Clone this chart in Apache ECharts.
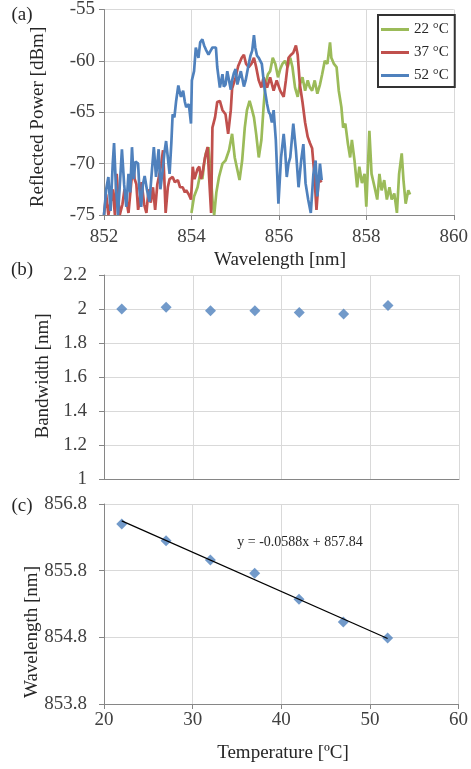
<!DOCTYPE html>
<html>
<head>
<meta charset="utf-8">
<script src="https://cdn.jsdelivr.net/npm/echarts@6/dist/echarts.min.js"></script>
<style>
  html, body { margin: 0; padding: 0; background: #fff; }
  #chart { width: 471px; height: 769px; }
</style>
</head>
<body>
<div id="chart"></div>
<script>
// (a) reflected spectra: wavelength [nm] / power [dBm]
const wl22 = [854.00,854.06,854.14,854.20,854.25,854.29,854.33,854.39,854.44,854.49,854.52,854.57,854.63,854.71,854.78,854.86,854.93,854.99,855.05,855.10,855.16,855.22,855.27,855.33,855.37,855.43,855.48,855.54,855.60,855.65,855.69,855.75,855.80,855.86,855.92,855.98,856.03,856.08,856.14,856.20,856.26,856.31,856.37,856.43,856.48,856.54,856.60,856.66,856.71,856.76,856.82,856.88,856.94,856.99,857.05,857.11,857.17,857.20,857.26,857.32,857.37,857.43,857.47,857.52,857.58,857.63,857.67,857.73,857.79,857.84,857.90,857.96,858.00,858.07,858.12,858.19,858.25,858.30,858.35,858.41,858.47,858.53,858.58,858.64,858.70,858.75,858.81,858.85,858.90,858.96,859.00];
const pw22 = [-74.8,-73.2,-72.3,-71.0,-71.5,-70.0,-69.0,-68.4,-71.0,-74.0,-75.0,-72.8,-71.3,-70.0,-69.7,-68.7,-67.1,-69.4,-70.6,-71.6,-69.7,-66.5,-64.8,-63.9,-64.5,-65.5,-67.1,-69.4,-67.7,-64.5,-62.3,-61.3,-61.0,-59.7,-60.3,-61.6,-60.8,-60.3,-60.0,-60.6,-59.7,-60.6,-62.6,-63.5,-62.3,-61.6,-62.9,-61.9,-62.6,-62.9,-61.9,-63.2,-62.3,-61.3,-60.0,-60.3,-58.2,-59.7,-60.3,-60.6,-62.9,-64.5,-66.5,-66.1,-68.1,-69.4,-67.7,-69.7,-72.3,-70.3,-71.9,-71.0,-74.2,-66.8,-71.0,-72.3,-73.5,-71.0,-72.6,-71.6,-73.5,-72.3,-73.5,-72.9,-74.8,-71.0,-69.0,-71.6,-73.9,-72.6,-73.0];

const wl37 = [852.00,852.05,852.10,852.14,852.20,852.25,852.29,852.33,852.36,852.42,852.47,852.51,852.56,852.62,852.67,852.70,852.74,852.78,852.82,852.86,852.92,852.97,853.02,853.07,853.12,853.17,853.22,853.27,853.31,853.35,853.38,853.41,853.46,853.50,853.57,853.62,853.69,853.74,853.80,853.85,853.88,853.94,853.99,854.03,854.07,854.10,854.14,854.18,854.22,854.25,854.31,854.37,854.40,854.45,854.48,854.54,854.59,854.65,854.71,854.78,854.84,854.90,854.93,855.01,855.07,855.15,855.20,855.25,855.31,855.37,855.43,855.48,855.54,855.60,855.65,855.73,855.80,855.88,855.95,856.03,856.11,856.16,856.22,856.28,856.33,856.39,856.43,856.48,856.54,856.60,856.66,856.71,856.76,856.81,856.86,856.91,856.98];
const pw37 = [-75.0,-73.0,-75.0,-74.0,-72.5,-75.0,-71.0,-73.5,-75.0,-74.0,-72.5,-73.5,-74.8,-72.0,-70.0,-71.5,-72.0,-74.5,-73.5,-71.8,-74.0,-74.8,-72.5,-73.8,-72.3,-74.5,-72.0,-71.0,-70.0,-68.7,-71.5,-74.8,-72.3,-71.5,-71.3,-71.8,-71.6,-72.3,-72.3,-72.8,-72.6,-73.0,-73.5,-70.3,-71.5,-71.6,-70.5,-70.3,-71.5,-71.0,-69.4,-68.4,-71.0,-74.8,-66.5,-65.5,-64.0,-63.9,-64.8,-65.2,-67.1,-64.8,-62.7,-61.6,-60.5,-59.7,-59.4,-60.3,-60.6,-60.3,-59.7,-60.6,-61.9,-62.6,-61.6,-62.6,-61.6,-62.9,-61.9,-62.9,-63.5,-61.9,-59.7,-59.4,-59.2,-58.5,-59.4,-62.3,-64.0,-66.0,-67.4,-68.0,-68.5,-71.0,-74.5,-71.5,-71.8];

const wl52 = [852.00,852.05,852.10,852.15,852.20,852.23,852.27,852.32,852.37,852.41,852.46,852.51,852.56,852.60,852.64,852.68,852.72,852.78,852.81,852.85,852.89,852.93,852.98,853.04,853.09,853.14,853.19,853.25,853.29,853.34,853.38,853.42,853.46,853.50,853.54,853.57,853.61,853.65,853.70,853.73,853.76,853.81,853.85,853.88,853.94,853.99,854.01,854.06,854.10,854.16,854.20,854.25,854.29,854.33,854.39,854.44,854.48,854.56,854.59,854.65,854.71,854.74,854.78,854.82,854.86,854.90,854.93,854.97,855.01,855.05,855.09,855.13,855.16,855.20,855.24,855.31,855.35,855.39,855.43,855.46,855.50,855.54,855.61,855.67,855.73,855.77,855.80,855.84,855.88,855.93,855.99,856.05,856.11,856.14,856.18,856.22,856.26,856.33,856.39,856.45,856.51,856.56,856.61,856.67,856.73,856.79,856.84,856.88,856.94,856.98];
const pw52 = [-75.0,-72.5,-71.3,-74.6,-70.0,-68.0,-72.0,-75.0,-71.5,-68.6,-72.0,-74.2,-71.0,-72.8,-68.4,-71.5,-69.8,-70.0,-72.5,-74.2,-72.0,-71.2,-72.5,-73.7,-71.0,-68.4,-71.3,-68.6,-72.5,-70.7,-69.0,-67.8,-67.7,-71.0,-68.0,-65.2,-65.5,-63.9,-62.4,-63.0,-63.5,-62.9,-64.0,-64.5,-64.2,-66.1,-61.9,-61.0,-58.7,-59.7,-58.2,-57.9,-58.5,-58.9,-59.4,-59.0,-58.7,-58.7,-60.6,-62.6,-61.3,-62.5,-62.3,-61.0,-61.0,-62.8,-61.9,-61.2,-60.8,-62.3,-62.3,-61.0,-61.0,-62.5,-61.9,-60.3,-59.5,-59.0,-57.5,-58.7,-59.5,-59.7,-60.3,-62.6,-64.2,-65.0,-65.2,-66.0,-64.8,-67.7,-73.9,-69.4,-67.1,-68.5,-71.3,-70.0,-69.4,-66.1,-68.7,-72.3,-69.7,-68.1,-71.9,-73.5,-74.8,-71.0,-69.7,-73.2,-70.0,-71.6];

const seriesNames = ['22 °C', '37 °C', '52 °C'];

// (b) and (c)
const temps = [22, 27, 32, 37, 42, 47, 52];
const bandwidth = [2.00, 2.01, 1.99, 1.99, 1.98, 1.97, 2.02];
const peakWl = [856.50, 856.25, 855.96, 855.76, 855.37, 855.03, 854.79];
const fitSlope = -0.0588;
const fitIntercept = 857.84;

const SERIF = '"Liberation Serif", "Times New Roman", serif';
const gridColor = '#d9d9d9';
const axisColor = '#868686';
const labelColor = '#404040';
const colors = ['#9bbb59', '#c0504d', '#4f81bd'];

const pairs = (xs, ys) => xs.map((x, i) => [x, ys[i]]);
const fitLine = [temps[0], temps[temps.length - 1]].map(t => [t, fitSlope * t + fitIntercept]);

function valueAxis(grid, min, max, interval, extra) {
  return Object.assign({
    type: 'value', gridIndex: grid, min: min, max: max, interval: interval,
    axisLine: { show: true, lineStyle: { color: axisColor, width: 1 } },
    axisTick: { show: true, length: 5, lineStyle: { color: axisColor } },
    splitLine: { show: true, lineStyle: { color: gridColor, width: 1 } },
    axisLabel: { color: labelColor, fontFamily: SERIF, fontSize: 19 }
  }, extra || {});
}

function label(text, x, y, size, rotate) {
  return {
    type: 'text', x: x, y: y, rotation: rotate ? Math.PI / 2 : 0,
    style: {
      text: text, fill: '#262626', font: size + 'px ' + SERIF,
      textAlign: 'center', textVerticalAlign: 'middle',
      align: 'center', verticalAlign: 'middle'
    }
  };
}

const chart = echarts.init(document.getElementById('chart'), null, { renderer: 'canvas' });

const option = {
  animation: false,
  backgroundColor: '#fff',
  color: colors,
  grid: [
    { left: 104, top: 8, width: 352, height: 207 },
    { left: 104, top: 275, width: 355, height: 204 },
    { left: 104, top: 504, width: 357, height: 200 }
  ],
  xAxis: [
    valueAxis(0, 852, 860, 2, { axisLabel: { color: labelColor, fontFamily: SERIF, fontSize: 19, margin: 13 } }),
    valueAxis(1, 20, 60, 10, { axisLabel: { show: false }, axisTick: { show: false } }),
    valueAxis(2, 20, 60, 10, { axisLabel: { color: labelColor, fontFamily: SERIF, fontSize: 19, margin: 7 } })
  ],
  yAxis: [
    valueAxis(0, -75, -55, 5, { axisLabel: { color: labelColor, fontFamily: SERIF, fontSize: 19, margin: 9 } }),
    valueAxis(1, 1, 2.2, 0.2, { axisLabel: { color: labelColor, fontFamily: SERIF, fontSize: 19, margin: 17 } }),
    valueAxis(2, 853.8, 856.8, 1, {
      axisLabel: { color: labelColor, fontFamily: SERIF, fontSize: 19, margin: 17, formatter: v => v.toFixed(1) }
    })
  ],
  legend: {
    data: seriesNames,
    orient: 'vertical',
    left: 378, top: 15,
    icon: 'rect', itemWidth: 28, itemHeight: 3, itemGap: 8,
    padding: [7, 6, 4, 3],
    borderColor: '#333', borderWidth: 2, backgroundColor: '#fff',
    textStyle: { fontFamily: SERIF, fontSize: 15, color: '#262626' }
  },
  series: [
    { name: seriesNames[0], type: 'line', xAxisIndex: 0, yAxisIndex: 0, data: pairs(wl22, pw22),
      showSymbol: false, clip: true, lineStyle: { width: 2.7 } },
    { name: seriesNames[1], type: 'line', xAxisIndex: 0, yAxisIndex: 0, data: pairs(wl37, pw37),
      showSymbol: false, clip: true, lineStyle: { width: 2.7 } },
    { name: seriesNames[2], type: 'line', xAxisIndex: 0, yAxisIndex: 0, data: pairs(wl52, pw52),
      showSymbol: false, clip: true, lineStyle: { width: 2.7 } },
    { name: 'Bandwidth', type: 'scatter', xAxisIndex: 1, yAxisIndex: 1, data: pairs(temps, bandwidth),
      symbol: 'diamond', symbolSize: 11, itemStyle: { color: '#4f81bd' } },
    { name: 'Peak', type: 'scatter', xAxisIndex: 2, yAxisIndex: 2, data: pairs(temps, peakWl),
      symbol: 'diamond', symbolSize: 11, itemStyle: { color: '#4f81bd' } },
    { name: 'Fit', type: 'line', xAxisIndex: 2, yAxisIndex: 2, data: fitLine,
      showSymbol: false, z: 5, lineStyle: { color: '#000', width: 1.2 } }
  ],
  graphic: [
    label('(a)', 22, 15, 19),
    label('(b)', 22, 270, 19),
    label('(c)', 22, 506, 19),
    label('Reflected Power [dBm]', 38, 117, 19, true),
    label('Wavelength [nm]', 280, 260, 19),
    label('Bandwidth [nm]', 43, 376, 19, true),
    label('Wavelength [nm]', 32, 632, 19, true),
    label('Temperature [ºC]', 283, 753, 19),
    label('y = ' + fitSlope + 'x + ' + fitIntercept, 300, 542, 14)
  ]
};

chart.setOption(option);
</script>
</body>
</html>
